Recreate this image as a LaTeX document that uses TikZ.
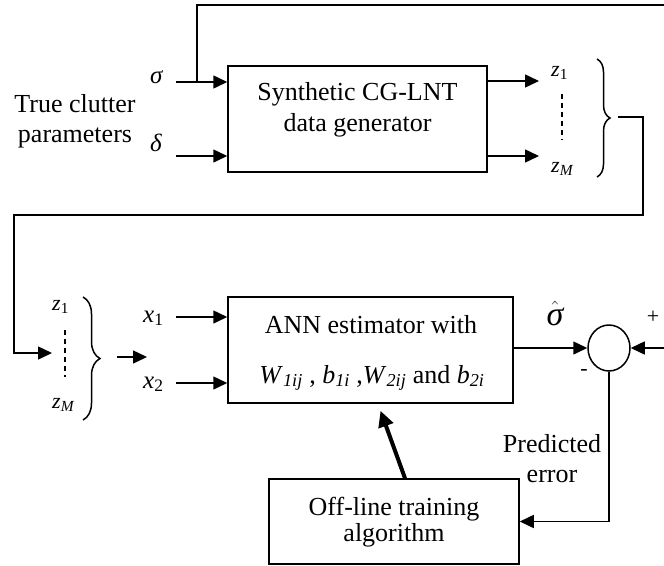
\documentclass[tikz,border=0pt]{standalone}
\usepackage{fontspec}
\setmainfont{Liberation Serif}
\usetikzlibrary{arrows.meta,shapes.geometric,decorations.pathreplacing}
\begin{document}
\begin{tikzpicture}[x=1pt,y=-1pt,
  ln/.style={line width=1.5pt},
  arr/.style={ln,-{Triangle[length=14pt,width=13pt]}},
  blk/.style={draw,line width=1.5pt,inner sep=0pt},
  txt/.style={inner sep=0pt,anchor=base,font=\fontsize{26}{30}\selectfont},
  var/.style={inner sep=0pt,anchor=base west,font=\fontsize{25}{25}\selectfont\itshape},
  zv/.style={inner sep=0pt,anchor=base west,font=\fontsize{22}{22}\selectfont\itshape},
  sgn/.style={inner sep=0pt,font=\fontsize{22}{22}\selectfont},
  dsh/.style={ln,dash pattern=on 5pt off 4pt},
  brc/.style={ln,decorate,decoration={brace,amplitude=#1}}
]
\useasboundingbox (0,0) rectangle (664,565);

% blocks
\node[blk,minimum width=259pt,minimum height=106pt] (syn) at (357.5,119) {};
\node[txt] (syn1) at (357.5,100) {Synthetic CG-LNT};
\node[txt] (syn2) at (357.5,131) {data generator};

\node[blk,minimum width=285pt,minimum height=106pt] (ann) at (370.5,350) {};
\node[txt] (ann1) at (371,333) {ANN estimator with};
\node[txt] (ann2) at (372,383) {\textit{W}\textsubscript{\textit{1ij}} , \textit{b}\textsubscript{\textit{1i}} ,\textit{W}\textsubscript{\textit{2ij}} and \textit{b}\textsubscript{\textit{2i}}};

\node[blk,minimum width=250pt,minimum height=85pt] (off) at (394,521.5) {};
\node[txt] (off1) at (394,515) {Off-line training};
\node[txt] (off2) at (394,541) {algorithm};

\node[draw,ellipse,ln,minimum width=42pt,minimum height=46pt,inner sep=0pt] (sum) at (609,348) {};

% labels
\node[txt] (tc1) at (75,112) {True clutter};
\node[txt] (tc2) at (75,142) {parameters};
\node[var] (sig) at (150,83) {σ};
\node[var] (del) at (150,151) {δ};
\node[zv] (z1a) at (551,76) {z\textsubscript{\upshape 1}};
\node[zv] (zMa) at (551,172) {z\textsubscript{M}};
\node[zv] (z1b) at (52,310) {z\textsubscript{\upshape 1}};
\node[zv] (zMb) at (52,408) {z\textsubscript{M}};
\node[var] (x1) at (143,322) {x\textsubscript{\upshape 1}};
\node[var] (x2) at (143,388) {x\textsubscript{\upshape 2}};
\node[inner sep=0pt,anchor=base,font=\fontsize{34}{34}\selectfont] (sh) at (555,325) {$\hat{\hbox{\itshape σ}}$};
\node[sgn] (plus) at (653,317) {+};
\node[sgn] (minus) at (584,372) {-};
\node[txt] (pe1) at (552,452) {Predicted};
\node[txt] (pe2) at (552,482) {error};

% coordinates
\coordinate (tr) at (664,5);
\coordinate (sj) at (197,82);
\coordinate (sigs) at (176,82);
\coordinate (dels) at (176,156);
\coordinate (o1) at (539,81);
\coordinate (o2) at (539,156);
\coordinate (b1) at (618,117);
\coordinate (zin) at (52,353);
\coordinate (bo) at (117,357);
\coordinate (bi) at (147,357);
\coordinate (x1s) at (176,317);
\coordinate (x2s) at (176,383);
\coordinate (rr) at (664,348);

% connectors
\draw[ln] (tr) -| (sj);
\draw[arr] (sigs) -- (syn.west |- sigs);
\draw[arr] (dels) -- (syn.west |- dels);
\draw[arr] (syn.east |- o1) -- (o1);
\draw[arr] (syn.east |- o2) -- (o2);
\draw[dsh] (562,94) -- (562,140);
\draw[brc=13pt] (597,59) -- (597,177);
\draw[arr] (b1) -- ++(25,0) |- (14,215) |- (zin);
\draw[dsh] (65,330) -- (65,377);
\draw[brc=17pt] (83,297) -- (83,420);
\draw[arr] (bo) -- (bi);
\draw[arr] (x1s) -- (ann.west |- x1s);
\draw[arr] (x2s) -- (ann.west |- x2s);
\draw[arr] (ann.east |- sum) -- (sum.west);
\draw[arr] (rr) -- (sum.east);
\draw[arr] (sum.south) |- (off.east);
\draw[line width=4pt,-{Triangle[length=16pt,width=15pt]}] ([xshift=11pt]off.north) -- ([xshift=10pt,yshift=-7pt]ann.south);
\end{tikzpicture}
\end{document}
